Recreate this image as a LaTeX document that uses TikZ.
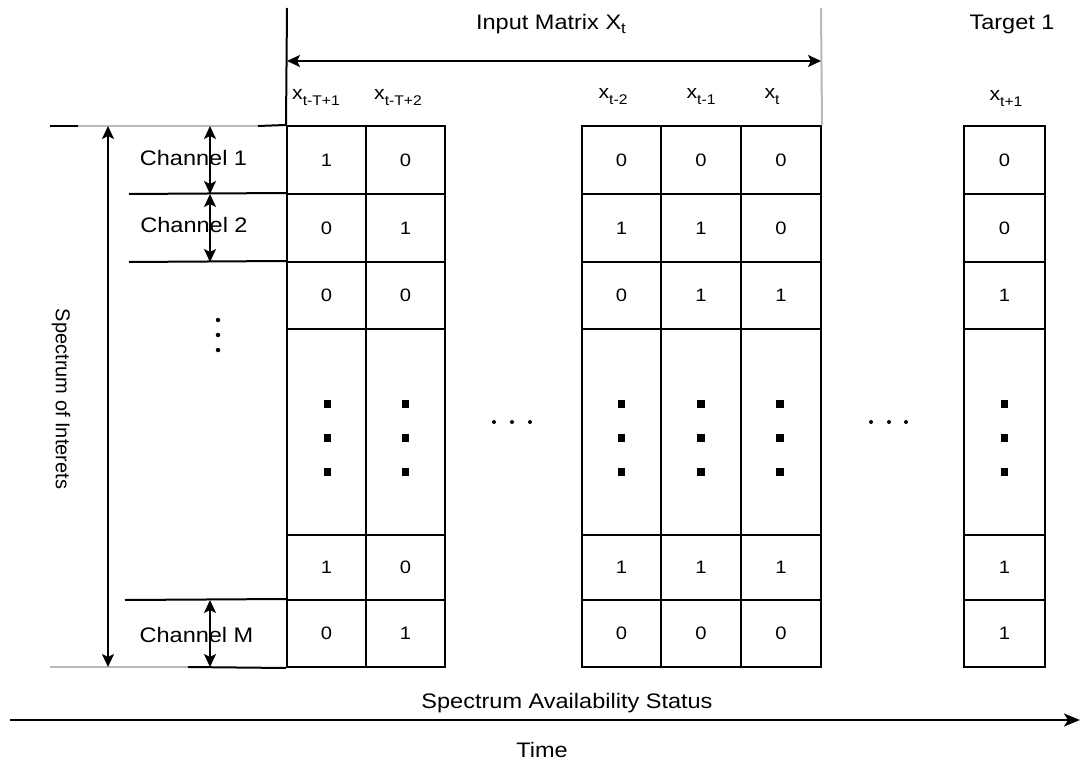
\documentclass[tikz,border=0pt]{standalone}
\usepackage{fontspec}
\setmainfont{Liberation Sans}[FakeStretch=1.12]
\newfontfamily\sidefont{Liberation Sans}
\usetikzlibrary{arrows.meta}

% lowered index text: #1 = text, #2 = size, #3 = drop
\newcommand\lowidx[3]{\raisebox{-#3}{\fontsize{#2}{#2}\selectfont #1}}

\tikzset{
  grid line/.style={line width=2pt},
  faint line/.style={line width=2pt, gray!55},
  cell/.style={draw, line width=2pt, inner sep=0pt, font=\fontsize{18}{20}\selectfont},
  tipd/.tip={Stealth[length=13pt,width=12pt,inset=3pt]},
  dim/.style={line width=2pt, tipd-tipd},
  label/.style={font=\fontsize{21}{24}\selectfont, inner sep=0pt},
  header/.style={font=\fontsize{19}{22}\selectfont, inner sep=0pt, anchor=base},
  sq/.style={fill=black, minimum width=#1, minimum height=7.5pt, inner sep=0pt},
  sq/.default=7pt,
  pt/.style={fill=black, circle, minimum size=4.5pt, inner sep=0pt},
}

\begin{document}
\begin{tikzpicture}[x=1pt, y=-1pt]
\useasboundingbox (0,0) rectangle (1082,762);

% ---- matrix cells: column name / centre / width / values of rows 1,2,3,5,6
\foreach \c/\x/\w/\va/\vb/\vc/\ve/\vf in {
    a/326.5/79/1/0/0/1/0,
    b/405.5/79/0/1/0/0/1,
    c/621.5/79/0/1/0/1/0,
    d/701/80/0/1/1/1/0,
    e/781/80/0/0/1/1/0,
    t/1004.5/81/0/0/1/1/1}
{
  \node[cell, minimum width=\w pt, minimum height=68pt]  (\c1) at (\x,160)   {\va};
  \node[cell, minimum width=\w pt, minimum height=68pt]  (\c2) at (\x,228)   {\vb};
  \node[cell, minimum width=\w pt, minimum height=67pt]  (\c3) at (\x,295.5) {\vc};
  \node[cell, minimum width=\w pt, minimum height=206pt] (\c4) at (\x,432)   {};
  \node[cell, minimum width=\w pt, minimum height=65pt]  (\c5) at (\x,567.5) {\ve};
  \node[cell, minimum width=\w pt, minimum height=67pt]  (\c6) at (\x,633.5) {\vf};
}

% vertical ellipses inside the tall row
\foreach \c/\x/\s in {a/327/7pt, b/405.5/7pt, c/621/7pt, d/701/8.5pt, e/780/8.5pt, t/1004/7pt}
  \foreach \y/\k in {404/1, 438/2, 472/3}
    \node[sq=\s] (dot\c\k) at (\x,\y) {};

% horizontal ellipses between column groups
\foreach \x/\k in {494/1, 512/2, 530/3}
  \node[pt, minimum size=4pt] (gapA\k) at (\x,422) {};
\foreach \x/\k in {871/1, 889/2, 906/3}
  \node[pt, minimum size=4pt] (gapB\k) at (\x,422) {};

% channel separators reaching out to the left
\draw[grid line] (50,126) -- (78,126);
\draw[faint line] (78,126) -- (258,126);
\draw[grid line] (258,126) -- (a1.north west);
\draw[grid line] (129,194) -- (a2.north west);
\draw[grid line] (129,262) -- (a3.north west);
\draw[grid line] (125,600) -- (a6.north west);
\draw[faint line] (50,667) -- (188,667);
\draw[grid line] (188,667) -- (a6.south west);

% bounds of the input matrix
\draw[grid line] (287,8) -- (a1.north west);
\draw[faint line] (821,8) -- (e1.north east);

% titles
\node[label, anchor=base] (title) at (551,30) {Input Matrix X\lowidx{t}{15pt}{4pt}};
\node[label, anchor=base] (target) at (1012,30) {Target 1};

% column headers
\node[header] (hA) at (316,100)  {x\lowidx{t-T+1}{14pt}{6pt}};
\node[header] (hB) at (398,100)  {x\lowidx{t-T+2}{14pt}{6pt}};
\node[header] (hC) at (613,99)  {x\lowidx{t-2}{14pt}{6pt}};
\node[header] (hD) at (701,99)  {x\lowidx{t-1}{14pt}{6pt}};
\node[header] (hE) at (772,99)  {x\lowidx{t}{14pt}{6pt}};
\node[header] (hT) at (1006,101) {x\lowidx{t+1}{14pt}{6pt}};

% channel labels
\node[label] (ch1) at (193.5,158) {Channel 1};
\node[label] (ch2) at (194,225)   {Channel 2};
\node[label] (chM) at (196.5,635) {Channel M};
\foreach \y/\k in {320/1, 335/2, 350/3}
  \node[pt] (chdot\k) at (218,\y) {};

\node[inner sep=0pt, rotate=-90, font=\sidefont\fontsize{20}{22}\selectfont] (soi) at (61,399) {Spectrum of Interets};

% dimension arrows
\coordinate (inL) at (287,61);
\coordinate (inR) at (821,61);
\coordinate (soiT) at (108,126);
\coordinate (soiB) at (108,667);
\coordinate (c1T) at (210,126);
\coordinate (c1B) at (210,194);
\coordinate (c2B) at (210,262);
\coordinate (cMT) at (210,600);
\coordinate (cMB) at (210,667);

\draw[dim] (inL) -- (inR);
\draw[dim] (soiT) -- (soiB);
\draw[dim] (c1T) -- (c1B);
\draw[dim] (c1B) -- (c2B);
\draw[dim] (cMT) -- (cMB);

% time axis
\node[label, anchor=base] (status) at (567,708) {Spectrum Availability Status};
\coordinate (timeL) at (10,720);
\coordinate (timeR) at (1080,720);
\draw[line width=2pt, -{Stealth[length=16pt,width=13pt,inset=4pt]}] (timeL) -- (timeR);
\node[label, anchor=base] (time) at (542,757) {Time};
\end{tikzpicture}
\end{document}
